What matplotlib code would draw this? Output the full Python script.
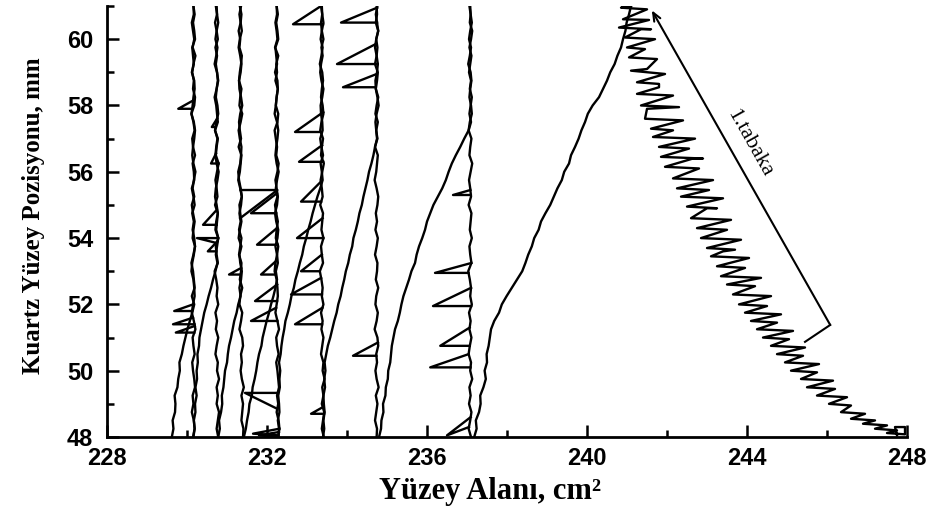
import matplotlib
matplotlib.use("Agg")
import numpy as np
import matplotlib.pyplot as plt
from matplotlib.ticker import MultipleLocator

# quartz position grid (mm) used by the up / down passes of the layers
pos_up = [48.0, 48.25, 48.5, 48.75, 49.0, 49.25, 49.5, 49.75, 50.0, 50.25,
          50.5, 50.75, 51.0, 51.25, 51.5, 51.75, 52.0, 52.25, 52.5, 52.75,
          53.0, 53.25, 53.5, 53.75, 54.0, 54.25, 54.5, 54.75, 55.0, 55.25,
          55.5, 55.75, 56.0, 56.25, 56.5, 56.75, 57.0, 57.25, 57.5, 57.75,
          58.0, 58.25, 58.5, 58.75, 59.0, 59.25, 59.5, 59.75, 60.0, 60.25,
          60.5, 60.75, 61.0]
pos_down = pos_up[::-1]

# surface area (cm2) per layer, upward pass then downward pass
l8_up = [229.62, 229.66, 229.64, 229.7, 229.71, 229.69, 229.76, 229.78, 229.82, 229.81,
         229.87, 229.91, 229.96, 230.01, 230.07, 230.13, 230.18, 230.12, 230.19, 230.17,
         230.15, 230.11, 230.16, 230.2, 230.18, 230.14, 230.17, 230.13, 230.19, 230.16,
         230.12, 230.18, 230.17, 230.14, 230.2, 230.15, 230.13, 230.19, 230.16, 230.11,
         230.18, 230.2, 230.15, 230.17, 230.13, 230.16, 230.21, 230.14, 230.18, 230.15,
         230.12, 230.17, 230.16]
l8_down = [230.16, 230.19, 230.15, 230.18, 230.2, 230.13, 230.15, 230.17, 230.12, 230.18,
           230.19, 230.16, 230.14, 230.11, 230.17, 230.2, 230.18, 230.15, 230.13, 230.16,
           230.21, 230.17, 230.14, 230.18, 230.12, 230.15, 230.19, 230.16, 230.14, 230.2,
           230.17, 230.13, 230.11, 230.16, 230.18, 230.19, 230.15, 230.12, 230.17, 230.21,
           230.14, 230.16, 230.19, 230.13, 230.15, 230.18, 230.2, 230.14, 230.16, 230.12,
           230.17, 230.19, 230.15]
l8_spikes = [(58.15, 229.78, 57.9, 57.9), (52.0, 229.68, 51.8, 51.8),
             (51.6, 229.65, 51.4, 51.4), (51.35, 229.72, 51.15, 51.15)]

l7_up = [230.16, 230.19, 230.17, 230.21, 230.2, 230.24, 230.21, 230.25, 230.24, 230.27,
         230.26, 230.3, 230.31, 230.35, 230.39, 230.43, 230.49, 230.54, 230.6, 230.65,
         230.71, 230.76, 230.72, 230.75, 230.78, 230.71, 230.73, 230.77, 230.74, 230.7,
         230.72, 230.76, 230.79, 230.74, 230.71, 230.73, 230.76, 230.7, 230.77, 230.75,
         230.73, 230.69, 230.74, 230.78, 230.75, 230.72, 230.75, 230.71, 230.77, 230.74,
         230.7, 230.75, 230.74]
l7_down = [230.72, 230.75, 230.78, 230.74, 230.71, 230.76, 230.73, 230.69, 230.75, 230.77,
           230.74, 230.72, 230.76, 230.78, 230.73, 230.7, 230.77, 230.74, 230.72, 230.79,
           230.75, 230.71, 230.74, 230.76, 230.7, 230.77, 230.75, 230.73, 230.78, 230.72,
           230.74, 230.77, 230.69, 230.73, 230.76, 230.74, 230.78, 230.71, 230.75, 230.72,
           230.78, 230.74, 230.71, 230.77, 230.75, 230.8, 230.74, 230.77, 230.74, 230.8,
           230.77, 230.74, 230.78]
l7_spikes = [(57.6, 230.62, 57.35, 57.35), (56.55, 230.6, 56.25, 56.25),
             (54.85, 230.4, 54.4, 54.4), (54.0, 230.25, 54.0, 53.85), (53.9, 230.52, 53.6, 53.6)]

l6_up = [230.78, 230.82, 230.8, 230.85, 230.88, 230.87, 230.91, 230.93, 230.95, 231.0,
         231.02, 231.05, 231.1, 231.14, 231.18, 231.24, 231.28, 231.34, 231.31, 231.35,
         231.37, 231.33, 231.31, 231.36, 231.29, 231.32, 231.36, 231.33, 231.31, 231.37,
         231.34, 231.3, 231.28, 231.33, 231.35, 231.36, 231.32, 231.29, 231.34, 231.38,
         231.31, 231.33, 231.36, 231.3, 231.32, 231.35, 231.37, 231.31, 231.33, 231.29,
         231.34, 231.36, 231.32]
l6_down = [231.35, 231.31, 231.34, 231.37, 231.32, 231.29, 231.33, 231.36, 231.34, 231.3,
           231.31, 231.35, 231.38, 231.33, 231.3, 231.32, 231.35, 231.29, 231.36, 231.34,
           231.32, 231.28, 231.33, 231.37, 231.35, 231.31, 231.34, 231.3, 231.36, 231.33,
           231.3, 231.36, 231.35, 231.32, 231.38, 231.33, 231.31, 231.38, 231.35, 231.31,
           231.38, 231.4, 231.35, 231.37, 231.34, 231.37, 231.42, 231.36, 231.4, 231.38,
           231.36, 231.41, 231.4]
l6_spikes = [(55.45, 232.26, 55.45, 54.6), (53.1, 231.05, 52.9, 52.9)]

l5_up = [231.42, 231.47, 231.5, 231.54, 231.56, 231.62, 231.64, 231.69, 231.73, 231.76,
         231.8, 231.86, 231.89, 231.94, 231.99, 232.05, 232.1, 232.16, 232.21, 232.25,
         232.22, 232.27, 232.25, 232.21, 232.26, 232.28, 232.23, 232.2, 232.25, 232.27,
         232.24, 232.21, 232.26, 232.29, 232.23, 232.25, 232.22, 232.19, 232.26, 232.28,
         232.22, 232.24, 232.27, 232.21, 232.25, 232.23, 232.28, 232.2, 232.26, 232.24,
         232.21, 232.25, 232.24]
l5_down = [232.24, 232.27, 232.23, 232.26, 232.28, 232.21, 232.23, 232.25, 232.2, 232.26,
           232.27, 232.24, 232.22, 232.19, 232.25, 232.28, 232.26, 232.23, 232.21, 232.24,
           232.29, 232.25, 232.22, 232.26, 232.2, 232.23, 232.27, 232.24, 232.22, 232.28,
           232.25, 232.21, 232.19, 232.24, 232.26, 232.27, 232.24, 232.21, 232.26, 232.3,
           232.23, 232.25, 232.29, 232.23, 232.26, 232.28, 232.3, 232.25, 232.28, 232.24,
           232.29, 232.31, 232.28]
l5_spikes = [(55.35, 231.6, 54.75, 54.75), (54.3, 231.75, 53.8, 53.8),
             (53.3, 231.85, 52.9, 52.9), (52.6, 231.7, 52.1, 52.1),
             (51.9, 231.6, 51.5, 51.5), (49.33, 231.45, 49.33, 48.85),
             (48.25, 231.65, 48.1, 48.05), (48.15, 231.8, 48.05, 48.0)]

l4_up = [232.28, 232.3, 232.27, 232.31, 232.3, 232.28, 232.32, 232.31, 232.33, 232.3,
         232.34, 232.36, 232.39, 232.43, 232.46, 232.52, 232.57, 232.61, 232.67, 232.71,
         232.77, 232.82, 232.88, 232.92, 232.98, 233.03, 233.09, 233.14, 233.2, 233.26,
         233.33, 233.39, 233.37, 233.34, 233.4, 233.36, 233.33, 233.39, 233.38, 233.35,
         233.34, 233.38, 233.41, 233.36, 233.33, 233.35, 233.39, 233.36, 233.41, 233.37,
         233.35, 233.38, 233.37]
l4_down = [233.35, 233.38, 233.41, 233.37, 233.34, 233.39, 233.36, 233.32, 233.38, 233.4,
           233.37, 233.35, 233.39, 233.41, 233.36, 233.33, 233.4, 233.37, 233.35, 233.42,
           233.38, 233.34, 233.37, 233.39, 233.33, 233.4, 233.38, 233.36, 233.41, 233.35,
           233.37, 233.4, 233.32, 233.36, 233.39, 233.37, 233.41, 233.35, 233.39, 233.36,
           233.41, 233.38, 233.35, 233.41, 233.39, 233.44, 233.38, 233.41, 233.37, 233.43,
           233.4, 233.37, 233.42]
l4_spikes = [(61.0, 232.65, 60.45, 60.45), (57.8, 232.7, 57.2, 57.2),
             (56.8, 232.8, 56.3, 56.3), (55.7, 232.85, 55.1, 55.1),
             (54.6, 232.75, 54.0, 54.0), (53.5, 232.85, 53.0, 53.0),
             (52.8, 232.6, 52.3, 52.3), (51.9, 232.7, 51.4, 51.4), (48.9, 233.1, 48.7, 48.7)]

l3_up = [233.4, 233.43, 233.41, 233.44, 233.42, 233.41, 233.45, 233.43, 233.46, 233.44,
         233.48, 233.52, 233.58, 233.63, 233.68, 233.74, 233.78, 233.84, 233.88, 233.93,
         233.97, 234.03, 234.07, 234.13, 234.16, 234.22, 234.27, 234.31, 234.37, 234.41,
         234.46, 234.51, 234.55, 234.61, 234.66, 234.7, 234.75, 234.73, 234.77, 234.71,
         234.74, 234.78, 234.72, 234.75, 234.77, 234.7, 234.74, 234.76, 234.73, 234.78,
         234.72, 234.75, 234.74]
l3_down = [234.76, 234.72, 234.75, 234.78, 234.73, 234.7, 234.74, 234.77, 234.75, 234.71,
           234.72, 234.76, 234.79, 234.74, 234.71, 234.73, 234.76, 234.7, 234.77, 234.75,
           234.73, 234.69, 234.74, 234.78, 234.76, 234.72, 234.75, 234.71, 234.77, 234.74,
           234.7, 234.76, 234.75, 234.72, 234.78, 234.73, 234.71, 234.77, 234.74, 234.69,
           234.76, 234.78, 234.73, 234.75, 234.71, 234.74, 234.79, 234.72, 234.76, 234.73,
           234.7, 234.75, 234.74]
l3_spikes = [(60.95, 233.85, 60.5, 60.5), (59.85, 233.75, 59.25, 59.25),
             (58.95, 233.9, 58.55, 58.55), (50.85, 234.15, 50.45, 50.45)]

l2_up = [234.8, 234.85, 234.86, 234.91, 234.9, 234.96, 234.97, 235.02, 235.03, 235.08,
         235.1, 235.12, 235.16, 235.2, 235.27, 235.32, 235.36, 235.41, 235.48, 235.55,
         235.61, 235.7, 235.74, 235.8, 235.88, 235.95, 236.0, 236.08, 236.16, 236.27,
         236.38, 236.47, 236.54, 236.62, 236.72, 236.83, 236.93, 237.04, 237.1, 237.06,
         237.09, 237.12, 237.07, 237.1, 237.05, 237.08, 237.11, 237.06, 237.1, 237.13,
         237.07, 237.09, 237.08]
l2_down = [237.06, 237.09, 237.12, 237.08, 237.05, 237.1, 237.07, 237.03, 237.09, 237.11,
           237.08, 237.06, 237.1, 237.12, 237.07, 237.04, 237.11, 237.08, 237.06, 237.13,
           237.09, 237.05, 237.08, 237.1, 237.04, 237.11, 237.09, 237.07, 237.12, 237.06,
           237.08, 237.11, 237.03, 237.07, 237.1, 237.08, 237.12, 237.05, 237.09, 237.06,
           237.11, 237.07, 237.04, 237.1, 237.08, 237.13, 237.06, 237.09, 237.05, 237.11,
           237.08, 237.04, 237.1]
l2_spikes = [(55.45, 236.65, 55.3, 55.3), (53.25, 236.2, 52.95, 52.95),
             (52.5, 236.15, 51.95, 51.95), (51.3, 236.33, 50.75, 50.75),
             (50.5, 236.08, 50.1, 50.1), (48.6, 236.5, 48.05, 48.3)]

# first layer (1.tabaka): upward pass, then the ragged downward pass
l1_up = [237.18, 237.24, 237.22, 237.3, 237.34, 237.33, 237.41, 237.47, 237.44, 237.5,
         237.49, 237.54, 237.57, 237.6, 237.68, 237.8, 237.87, 237.99, 238.12, 238.25,
         238.38, 238.46, 238.53, 238.62, 238.68, 238.79, 238.85, 238.96, 239.08, 239.17,
         239.26, 239.37, 239.43, 239.55, 239.6, 239.7, 239.79, 239.86, 239.95, 240.02,
         240.14, 240.3, 240.4, 240.5, 240.58, 240.69, 240.76, 240.85, 240.9, 240.96,
         240.99, 241.05, 241.1]
l1_down_pos = [61.0, 60.95, 60.9, 60.6, 60.58, 60.35, 60.3, 60.3, 60.05, 60.0,
               59.75, 59.7, 59.45, 59.4, 59.1, 59.05, 58.95, 58.7, 58.65, 58.55,
               58.35, 58.3, 58.0, 57.95, 57.9, 57.6, 57.55, 57.3, 57.25, 57.05,
               57.0, 56.75, 56.7, 56.45, 56.4, 56.4, 56.15, 56.1, 55.8, 55.75,
               55.5, 55.45, 55.25, 55.2, 54.95, 54.9, 54.9, 54.6, 54.55, 54.3,
               54.25, 54.0, 53.95, 53.7, 53.65, 53.6, 53.45, 53.4, 53.15, 53.1,
               52.85, 52.8, 52.6, 52.55, 52.3, 52.25, 52.0, 51.95, 51.75, 51.7,
               51.5, 51.45, 51.25, 51.2, 51.0, 50.95, 50.75, 50.7, 50.5, 50.45,
               50.25, 50.2, 50.0, 49.95, 49.75, 49.7, 49.5, 49.45, 49.25, 49.2,
               49.0, 48.95, 48.75, 48.7, 48.55, 48.5, 48.4, 48.35, 48.25, 48.2,
               48.12, 48.08, 48.3, 48.3, 48.05]
l1_down_area = [241.1, 240.85, 241.5, 240.9, 241.55, 240.8, 241.6, 241.35, 240.95, 241.7,
                241.0, 241.45, 241.05, 241.75, 241.5, 241.1, 241.95, 241.25, 241.8, 241.8,
                241.25, 242.15, 241.35, 242.3, 241.5, 241.45, 242.4, 241.6, 242.15, 241.65,
                242.7, 241.8, 242.55, 241.85, 242.9, 242.65, 241.95, 242.8, 242.15, 243.15,
                242.25, 243.05, 242.35, 243.4, 242.5, 243.25, 243.0, 242.6, 243.6, 242.75,
                243.5, 242.85, 243.85, 243.0, 243.7, 243.4, 243.1, 244.05, 243.25, 243.95,
                243.35, 244.35, 243.5, 244.2, 243.65, 244.6, 243.8, 244.5, 243.95, 244.85,
                244.1, 244.75, 244.25, 245.15, 244.4, 245.05, 244.6, 245.45, 244.75, 245.4,
                244.95, 245.8, 245.1, 245.75, 245.35, 246.15, 245.5, 246.2, 245.75, 246.5,
                246.05, 246.6, 246.35, 246.95, 246.6, 247.2, 246.9, 247.5, 247.2, 247.75,
                247.5, 247.95, 247.95, 247.7, 247.75]

# arrow along the first layer: bent tail and tip
arrow_tail = [(245.45, 50.87), (246.08, 51.38)]
arrow_tip = (241.62, 60.87)

plt.rcParams['font.family'] = 'Liberation Sans'
plt.rcParams['font.weight'] = 'bold'

fig = plt.figure(figsize=(9.34, 5.19), dpi=100)
ax = fig.add_axes([0.1146, 0.158, 0.8565, 0.8304])

lw = 1.7
layers = [(l8_up, l8_down, l8_spikes), (l7_up, l7_down, l7_spikes),
          (l6_up, l6_down, l6_spikes), (l5_up, l5_down, l5_spikes),
          (l4_up, l4_down, l4_spikes), (l3_up, l3_down, l3_spikes),
          (l2_up, l2_down, l2_spikes)]
for up, down, spikes in layers:
    ax.plot(up, pos_up, color='black', lw=lw)
    ax.plot(down, pos_down, color='black', lw=lw)
    for y0, xt, yt, y1 in spikes:
        x0 = np.interp(y0, pos_up, down[::-1])
        x1 = np.interp(y1, pos_up, down[::-1])
        ax.plot([x0, xt, x1], [y0, yt, y1], color='black', lw=lw)

ax.plot(l1_up, pos_up, color='black', lw=lw)
ax.plot(l1_down_area, l1_down_pos, color='black', lw=lw)

ax.plot([p[0] for p in arrow_tail], [p[1] for p in arrow_tail], color='black', lw=1.5)
ax.annotate('', xy=arrow_tip, xytext=arrow_tail[1],
            arrowprops=dict(arrowstyle='->,head_length=0.6,head_width=0.25',
                            color='black', lw=1.5, shrinkA=0, shrinkB=0))
ax.text(244.05, 56.85, '1.tabaka', rotation=-60.5, ha='center', va='center',
        family='Liberation Serif', fontweight='normal', fontsize=16,
        rotation_mode='anchor')

ax.set_xlim(228, 248)
ax.set_ylim(48, 61)
ax.xaxis.set_major_locator(MultipleLocator(4))
ax.xaxis.set_minor_locator(MultipleLocator(2))
ax.yaxis.set_major_locator(MultipleLocator(2))
ax.yaxis.set_minor_locator(MultipleLocator(1))

for s in ['top', 'right']:
    ax.spines[s].set_visible(False)
for s in ['left', 'bottom']:
    ax.spines[s].set_linewidth(2.0)

ax.tick_params(which='major', direction='in', length=8.5, width=1.8, labelsize=17)
ax.tick_params(which='minor', direction='in', length=5, width=1.8)
ax.tick_params(axis='x', which='major', pad=7)
ax.tick_params(axis='y', which='major', pad=10)

ax.set_xlabel('Yüzey Alanı, cm²', family='Liberation Serif', fontweight='bold', fontsize=22)
ax.set_ylabel('Kuartz Yüzey Pozisyonu, mm', family='Liberation Serif', fontweight='bold', fontsize=18)
ax.xaxis.set_label_coords(0.479, -0.092)
ax.yaxis.set_label_coords(-0.078, 0.514)

fig.savefig('out.png', dpi=100)
